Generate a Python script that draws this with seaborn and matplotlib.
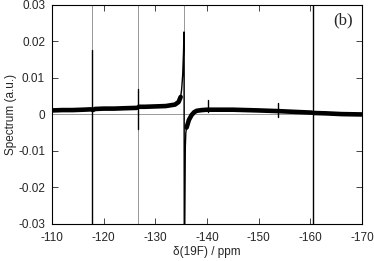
import matplotlib
matplotlib.use("Agg")
import matplotlib.pyplot as plt
import seaborn as sns

sns.set_style("ticks")
plt.rcParams['font.family'] = ['Liberation Sans', 'DejaVu Sans']

# ---- data ----
# black spectrum baseline segments (ppm, value)
seg1_ppm = [-110.0, -112.0, -114.0, -116.0, -117.6]
seg1_val = [0.0011, 0.0012, 0.0012, 0.0013, 0.0014]
seg2_ppm = [-117.9, -118.3, -120.0, -122.0, -124.0, -126.4]
seg2_val = [0.0012, 0.0015, 0.0016, 0.0016, 0.0017, 0.0018]
seg3_ppm = [-126.8, -128.0, -130.0, -132.0, -133.8, -134.5, -134.9]
seg3_val = [0.0021, 0.0021, 0.0022, 0.0023, 0.0027, 0.0034, 0.0048]
# dispersive line at -135.6 ppm (thin part)
peak_ppm = [-134.9, -135.1, -135.3, -135.45, -135.55, -135.6, -135.7, -135.8, -135.9, -136.05]
peak_val = [0.0048, 0.0070, 0.0110, 0.0170, 0.0226, -0.040, -0.030, -0.0090, -0.0050, -0.0036]
seg4_ppm = [-136.05, -136.5, -137.0, -137.5, -138.0, -139.0, -140.0,
            -145.0, -150.0, -154.0, -157.0, -160.3]
seg4_val = [-0.0036, -0.0015, -0.0002, 0.0006, 0.0010, 0.0012, 0.0013,
            0.0013, 0.0011, 0.0009, 0.0007, 0.0005]
seg5_ppm = [-160.7, -163.0, -166.0, -170.0]
seg5_val = [0.0004, 0.0003, 0.0001, 0.0000]

# black spikes: position, low, high
spike_ppm = [-117.75, -126.55, -140.1, -153.8, -160.5]
spike_lo = [-0.040, -0.0040, 0.0006, -0.0008, -0.040]
spike_hi = [0.0177, 0.0070, 0.0040, 0.0030, 0.040]

# grey second trace (zero baseline with off-scale lines)
grey_ppm = [-110.0, -117.75, -117.75, -117.75, -117.75, -126.7, -126.7, -126.7, -126.7,
            -135.6, -135.6, -135.6, -135.6, -170.0]
grey_val = [0.0, 0.0, 0.04, -0.04, 0.0, 0.0, 0.04, -0.04, 0.0,
            0.0, 0.04, -0.04, 0.0, 0.0]

x_ticks = [-110, -120, -130, -140, -150, -160, -170]
y_ticks = [-0.03, -0.02, -0.01, 0, 0.01, 0.02, 0.03]
y_labels = ['-0.03', '-0.02', '-0.01', '0', '0.01', '0.02', '0.03']

fig = plt.figure(figsize=(3.74, 2.61), dpi=100)
ax = fig.add_axes([0.139, 0.142, 0.829, 0.839])

sns.lineplot(x=grey_ppm, y=grey_val, sort=False, estimator=None, color='#999999',
             linewidth=0.7, ax=ax)

for sp, sv in [(seg1_ppm, seg1_val), (seg2_ppm, seg2_val), (seg3_ppm, seg3_val),
               (seg4_ppm, seg4_val), (seg5_ppm, seg5_val)]:
    sns.lineplot(x=sp, y=sv, sort=False, estimator=None, color='black',
                 linewidth=3.3, ax=ax)
sns.lineplot(x=peak_ppm, y=peak_val, sort=False, estimator=None,
             color='black', linewidth=1.0, ax=ax)

for p, lo, hi in zip(spike_ppm, spike_lo, spike_hi):
    sns.lineplot(x=[p, p], y=[lo, hi], sort=False, estimator=None, color='black',
                 linewidth=1.0, ax=ax)

ax.set_xlim(-110, -170)
ax.set_ylim(-0.03, 0.03)
ax.set_xticks(x_ticks)
ax.set_xticklabels([str(t) for t in x_ticks])
ax.set_yticks(y_ticks)
ax.set_yticklabels(y_labels)
ax.tick_params(direction='in', length=4, width=0.6, top=True, right=True,
               labelsize=8.5)
ax.tick_params(axis='x', pad=6)
ax.tick_params(axis='y', pad=5)
for s in ax.spines.values():
    s.set_linewidth(0.8)
    s.set_color('black')
ax.set_xlabel('δ(19F) / ppm', fontsize=8.5, labelpad=1)
ax.set_ylabel('Spectrum (a.u.)', fontsize=8.5, labelpad=1)
ax.text(0.97, 0.965, '(b)', transform=ax.transAxes, ha='right', va='top',
        fontsize=12, family=['Liberation Serif', 'DejaVu Serif'])

fig.savefig('out.png', dpi=100)
